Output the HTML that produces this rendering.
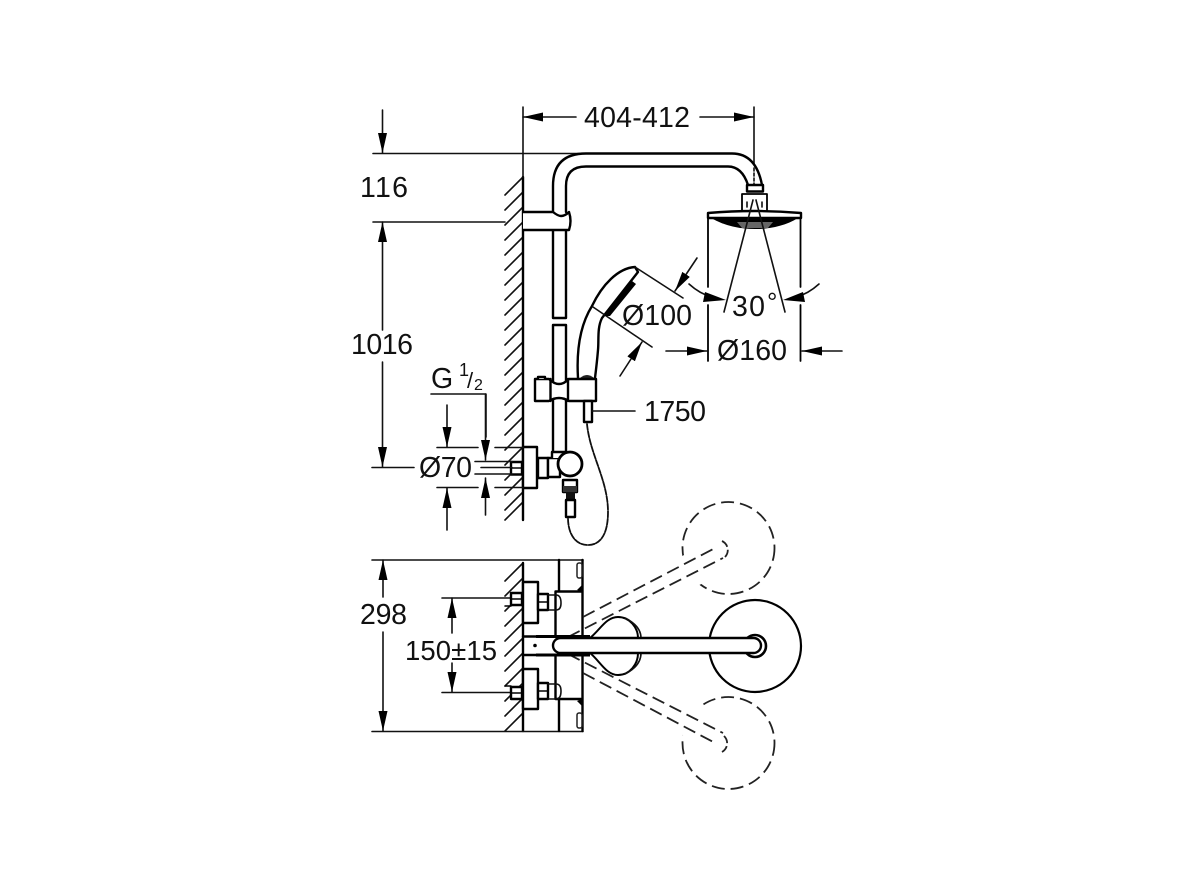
<!DOCTYPE html>
<html>
<head>
<meta charset="utf-8">
<style>
html,body{margin:0;padding:0;background:#fff;width:1190px;height:892px;overflow:hidden}
svg{display:block;filter:blur(.35px)}
text{font-family:"Liberation Sans",sans-serif;font-size:28.5px;fill:#111}
.l{fill:none;stroke:#111;stroke-width:1.600;stroke-linejoin:round;stroke-linecap:round}
.t{fill:none;stroke:#000;stroke-width:2.400;stroke-linejoin:round;stroke-linecap:round}
.w{fill:#fff;stroke:#000;stroke-width:2.400;stroke-linejoin:round}
.d{fill:none;stroke:#222;stroke-width:1.800;stroke-dasharray:13 6}
</style>
</head>
<body>
<svg width="1190" height="892" viewBox="0 0 1190 892" xmlns="http://www.w3.org/2000/svg">
<defs>
<marker id="a" viewBox="0 -5 20 10" refX="20" refY="0" markerUnits="userSpaceOnUse" markerWidth="20" markerHeight="10" orient="auto">
<path d="M0,-4.500 L20,0 L0,4.500z" fill="#000"/>
</marker>
</defs>

<!-- wall hatching top -->
<path class="l" d="M505 195l18-18M505 210l18-18M505 225l18-18M505 240l18-18M505 255l18-18M505 270l18-18M505 285l18-18M505 300l18-18M505 315l18-18M505 330l18-18M505 345l18-18M505 360l18-18M505 375l18-18M505 390l18-18M505 405l18-18M505 420l18-18M505 435l18-18M505 450l18-18M505 465l18-18M505 480l18-18M505 495l18-18M505 510l18-18M505 520l18-18"/>
<path class="t" d="M523 177V520"/>
<!-- wall hatching bottom -->
<path class="l" d="M505 581l18-18M505 596l18-18M505 611l18-18M505 626l18-18M505 641l18-18M505 656l18-18M505 671l18-18M505 686l18-18M505 701l18-18M505 716l18-18M505 731l18-18"/>
<path class="t" d="M523 563V731"/>

<!-- top dimension -->
<path class="l" d="M523 107V177M754 107V164M373 153.500H580M373 222H505"/>
<line class="l" x1="576" y1="117" x2="523" y2="117" marker-end="url(#a)"/>
<line class="l" x1="700" y1="117" x2="754" y2="117" marker-end="url(#a)"/>
<text x="584" y="127" textLength="106">404-412</text>

<!-- 116 -->
<line class="l" x1="382.500" y1="110" x2="382.500" y2="153" marker-end="url(#a)"/>
<text x="360" y="197" textLength="48">116</text>

<!-- 1016 -->
<line class="l" x1="382.500" y1="330" x2="382.500" y2="222" marker-end="url(#a)"/>
<line class="l" x1="382.500" y1="362" x2="382.500" y2="467" marker-end="url(#a)"/>
<path class="l" d="M372 467.500H414"/>
<text x="351" y="354" textLength="62">1016</text>

<!-- shower arm and rail -->
<path class="t" d="M553 212V186Q553 153.500 586 153.500H732Q756 153.500 762 185"/>
<path class="t" d="M566 212V186Q566 166.500 586 166.500H728Q742 166.500 748 185"/>
<path class="t" d="M553 230V318H566V230"/>
<path class="t" d="M553 452V325H566V452"/>
<path class="w" d="M523 212H553Q558 216 561 216Q565 216 569 212Q572 221 569 230H523"/>
<path class="l" d="M754 168V184" stroke-dasharray="3 2"/>

<!-- head shower -->
<rect class="w" x="747" y="185" width="16" height="6.500"/>
<rect class="w" x="742" y="194" width="25" height="18" style="stroke-width:1.800"/>
<path d="M711 218C725 226 740 229 755 229C770 229 785 226 798 218Z" fill="#000"/>
<path d="M737 222l36 0-5 6h-26z" fill="#666"/>
<path class="w" d="M708 213Q755 209 801 213V218H708Z"/>
<path class="t" style="stroke-width:1.800" d="M708 218V287M708 305V361M800.500 218V287M800.500 305V361"/>
<path class="l" d="M753 200L724 312M756 200L785 312"/>
<path class="l" d="M747 202v5M762 202v5"/>

<!-- 30 deg -->
<path class="l" d="M689 284Q700 294 712 297"/>
<path d="M705 292L726 300L703 302Z" fill="#000"/>
<path class="l" d="M819 284Q808 294 796 297"/>
<path d="M803 292L783 300L805 302Z" fill="#000"/>
<text x="732" y="316" textLength="33">30</text>
<text x="767" y="311" style="font-size:26px">°</text>

<!-- 160 -->
<line class="l" x1="666" y1="351" x2="707" y2="351" marker-end="url(#a)"/>
<line class="l" x1="842" y1="351" x2="802" y2="351" marker-end="url(#a)"/>
<text x="717" y="360" textLength="70">Ø160</text>

<!-- hand shower -->
<path class="t" d="M578 378C576 345 582 322 592 306C602 285 618 268 635 267L638 272L602 318C597 328 599 340 598 350C597 362 596 370 595 378"/>
<path class="l" d="M635 267L683 298M593 307L652 347"/>
<path d="M632 281L636 284L610 316L604 316Z" fill="#000"/>
<path d="M580 378Q587 372 594 378L592 382H582Z" fill="#222"/>
<line class="l" x1="697" y1="258" x2="675" y2="291" marker-end="url(#a)"/>
<line class="l" x1="620" y1="376" x2="642" y2="342" marker-end="url(#a)"/>
<text x="622" y="325" textLength="70">Ø100</text>

<!-- holder -->
<path class="w" d="M535 379H549Q554 384 559 384Q564 384 569 379H596V401H569Q564 398 559 398Q554 398 549 401H535Z"/>
<path class="t" d="M550.500 379V401M568 379V401"/>
<path class="w" d="M538 379v-2h7v2"/>
<rect class="w" x="584" y="401" width="8" height="21"/>
<path class="l" d="M592 411H635"/>
<text x="644" y="421" textLength="62">1750</text>

<!-- hose -->
<path class="l" style="stroke-dasharray:6 1.500;stroke-width:1.800" d="M587 424C590 455 608 480 608 512C608 535 600 545 588 545C574 545 568 532 568 518"/>

<!-- valve side -->
<rect class="w" x="523" y="447" width="14" height="41"/>
<rect class="w" x="511" y="462" width="11" height="12.500"/>
<path class="t" style="stroke-width:1.500" d="M511 468h11"/>
<rect class="w" x="538" y="458" width="10" height="20"/>
<rect class="w" x="548" y="458" width="12" height="19"/>
<path class="w" d="M552 458V452H566V458"/>
<circle class="w" cx="570" cy="464" r="12" style="stroke-width:2.800"/>
<rect class="w" x="563" y="480" width="14" height="12"/>
<path d="M563 486h14v6h-14z" fill="#333"/>
<rect x="566" y="492" width="9" height="8" fill="#111"/>
<rect class="w" x="566" y="500" width="9" height="17"/>

<!-- G 1/2 -->
<text x="431" y="388" textLength="21">G</text>
<text x="459" y="376" style="font-size:18px">1</text>
<text x="467" y="388" style="font-size:22px">/</text>
<text x="474" y="390" style="font-size:16px">2</text>
<path class="l" d="M431 394H486V437"/>
<line class="l" x1="485.500" y1="394" x2="485.500" y2="460" marker-end="url(#a)"/>
<line class="l" x1="485.500" y1="515" x2="485.500" y2="478" marker-end="url(#a)"/>

<!-- O70 -->
<line class="l" x1="447" y1="405" x2="447" y2="447" marker-end="url(#a)"/>
<line class="l" x1="447" y1="530" x2="447" y2="488" marker-end="url(#a)"/>
<path class="l" d="M437 447.500H478M495 447.500H523M437 487.500H478M495 487.500H523M475 461.500H512M481 467.500H512M475 474H512"/>
<text x="419" y="477" textLength="53">Ø70</text>

<!-- plan view dimensions -->
<path class="l" d="M372 560H583M372 731.500H583M442 598H511M442 692.500H511"/>
<line class="l" x1="383" y1="597" x2="383" y2="560" marker-end="url(#a)"/>
<line class="l" x1="383" y1="632" x2="383" y2="731" marker-end="url(#a)"/>
<text x="360" y="624" textLength="47">298</text>
<line class="l" x1="452" y1="633" x2="452" y2="598" marker-end="url(#a)"/>
<line class="l" x1="452" y1="663" x2="452" y2="692" marker-end="url(#a)"/>
<text x="405" y="660" textLength="92" style="font-size:27.5px">150±15</text>

<!-- plan view body -->
<path class="t" d="M559 560V591.500H582.500M582.500 560V731M559 731V699H582.500M555.500 591.500V636M555.500 655V699M555.500 591.500H559M555.500 699H559"/>
<rect x="577" y="563" width="5" height="15" rx="2" fill="#fff" stroke="#222" stroke-width="1.500"/>
<rect x="577" y="713" width="5" height="15" rx="2" fill="#fff" stroke="#222" stroke-width="1.500"/>
<path d="M577 590l5-5v7zM577 701l5 5v-7z" fill="#000"/>

<!-- plates -->
<rect class="w" x="523" y="582" width="15" height="41"/>
<rect class="w" x="523" y="669" width="15" height="40"/>
<rect class="w" x="511" y="593" width="11" height="12"/>
<rect class="w" x="511" y="687" width="11" height="12"/>
<path class="t" style="stroke-width:1.500" d="M511 599h11M511 693h11M505 606h6M505 686h6"/>
<rect class="w" x="538" y="594" width="10" height="16"/>
<rect class="w" x="538" y="683" width="10" height="16"/>
<path class="t" style="stroke-width:1.500" d="M538 602h10M538 691h10"/>
<path class="l" d="M548 595H556Q561 595 561 603Q561 610 556 610H548M548 684H556Q561 684 561 691Q561 699 556 699H548"/>

<!-- dashed circles -->
<circle class="d" cx="728.500" cy="548" r="46"/>
<circle class="d" cx="728.500" cy="743" r="46"/>
<polygon points="676,560 716,535 735,566 690,590" fill="#fff"/>
<polygon points="676,731 716,756 735,725 690,701" fill="#fff"/>
<path fill="none" stroke="#222" stroke-width="1.800" stroke-dasharray="8 3" d="M722 541A10 10 0 0 1 725 557M724 736A10 10 0 0 1 722 752"/>
<path class="d" d="M583 617L717 547M568 637L723 558M568 654L723 733M583 673L717 744"/>

<!-- big round head -->
<circle cx="755" cy="646" r="46" fill="#fff" stroke="#000" stroke-width="2.200"/>

<!-- teardrop -->
<path class="t" style="stroke-width:2" d="M590 638C600 630 606 617 618 617C630 617 638 628 638 638M590 653C600 661 606 675 618 675C630 675 638 664 638 653"/>
<path class="l" d="M625 618Q641 626 641 638M625 674Q641 666 641 653"/>

<!-- arm -->
<path class="t" d="M523 636.500H536M523 655H536"/>
<path d="M536 636.500H590" stroke="#000" stroke-width="3" fill="none"/>
<path d="M536 655H590" stroke="#000" stroke-width="3" fill="none"/>
<circle cx="755" cy="646" r="11" fill="#fff" stroke="#000" stroke-width="2.600"/>
<rect x="553" y="638" width="208" height="15" rx="7.500" fill="#fff" stroke="#000" stroke-width="2.400"/>
<circle cx="535" cy="645.500" r="1.800" fill="#000"/>
</svg>
</body>
</html>
